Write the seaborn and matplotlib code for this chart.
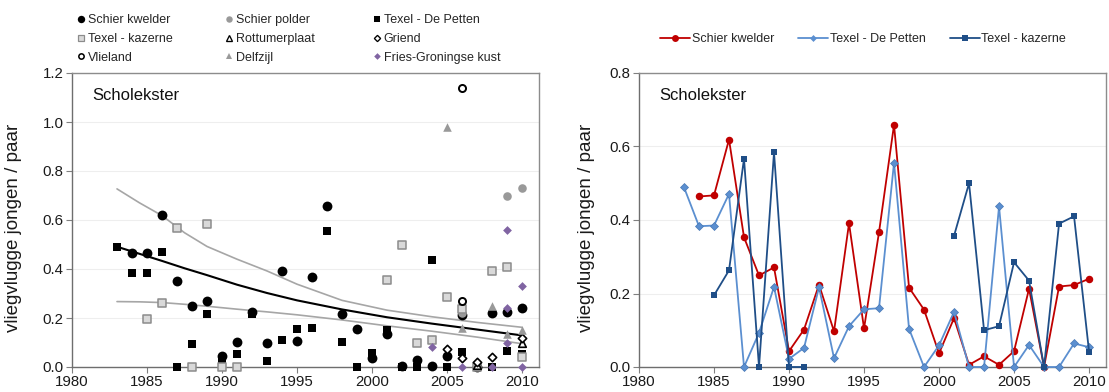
import matplotlib
matplotlib.use("Agg")
import matplotlib.pyplot as plt
import seaborn as sns
import numpy as np
import pandas as pd
from matplotlib.lines import Line2D
from matplotlib.ticker import FormatStrFormatter

sns.set_theme(style="white")
plt.rcParams['font.family'] = ['Liberation Sans', 'DejaVu Sans']

# ---------------- data ----------------
kwelder_years = list(range(1984, 2011))
kwelder_vals = [0.464, 0.467, 0.619, 0.353, 0.249, 0.271, 0.043, 0.102, 0.224, 0.097,
                0.391, 0.105, 0.367, 0.659, 0.216, 0.156, 0.037, 0.133, 0.006, 0.029,
                0.006, 0.043, 0.213, 0.000, 0.219, 0.223, 0.240]

petten_years = list(range(1983, 2011))
petten_vals = [0.489, 0.383, 0.385, 0.471, 0.000, 0.093, 0.218, 0.022, 0.052, 0.217,
               0.024, 0.111, 0.157, 0.160, 0.556, 0.104, 0.000, 0.059, 0.150, 0.000,
               0.000, 0.437, 0.000, 0.060, 0.000, 0.000, 0.064, 0.054]

kazerne_years_a = [1985, 1986, 1987, 1988, 1989, 1990, 1991]
kazerne_vals_a = [0.195, 0.263, 0.567, 0.000, 0.584, 0.000, 0.000]
kazerne_years_b = [2001, 2002, 2003, 2004, 2005, 2006, 2007, 2008, 2009, 2010]
kazerne_vals_b = [0.357, 0.500, 0.100, 0.111, 0.285, 0.235, 0.000, 0.390, 0.410, 0.042]

polder_years = [2006, 2009, 2010]
polder_vals = [0.22, 0.70, 0.73]
rottum_years = [2007, 2010]
rottum_vals = [0.01, 0.10]
griend_years = [2005, 2006, 2007, 2008, 2010]
griend_vals = [0.072, 0.035, 0.022, 0.040, 0.120]
vlieland_years = [2006, 2006]
vlieland_vals = [1.14, 0.27]
delfzijl_years = [2005, 2006, 2008, 2009, 2010]
delfzijl_vals = [0.98, 0.16, 0.25, 0.135, 0.152]
fries_years = [2004, 2006, 2008, 2009, 2009, 2009, 2010, 2010]
fries_vals = [0.08, 0.00, 0.00, 0.56, 0.24, 0.10, 0.33, 0.00]

# fitted trend and confidence band
trend_years = [1983, 1984.5, 1986, 1987.5, 1989, 1991, 1993, 1995, 1998, 2001, 2004, 2007, 2010]
trend_mid = [0.491, 0.462, 0.433, 0.403, 0.375, 0.336, 0.302, 0.272, 0.235, 0.203, 0.177, 0.153, 0.129]
trend_upper = [0.727, 0.670, 0.618, 0.548, 0.492, 0.440, 0.392, 0.338, 0.272, 0.232, 0.205, 0.182, 0.162]
trend_lower = [0.267, 0.266, 0.263, 0.256, 0.248, 0.236, 0.225, 0.213, 0.192, 0.168, 0.146, 0.122, 0.095]

title = "Scholekster"
ylabel = "vliegvlugge jongen / paar"
xticks = [1980, 1985, 1990, 1995, 2000, 2005, 2010]

# ---------------- figure ----------------
W, H = 1109, 392
fig = plt.figure(figsize=(W / 100, H / 100), dpi=100)
axL = fig.add_axes([72 / W, 1 - 367 / H, 467 / W, 294 / H])
axR = fig.add_axes([639 / W, 1 - 367 / H, 467 / W, 294 / H])

# trend lines
sns.lineplot(x=trend_years, y=trend_upper, ax=axL, color="#A6A6A6", lw=1.2, zorder=2)
sns.lineplot(x=trend_years, y=trend_lower, ax=axL, color="#A6A6A6", lw=1.2, zorder=2)
sns.lineplot(x=trend_years, y=trend_mid, ax=axL, color="black", lw=1.5, zorder=2)

# scatter series
styles = {
    "Schier kwelder": dict(marker="o", color="black", edgecolor="black", s=50, linewidth=0),
    "Schier polder": dict(marker="o", color="#999999", edgecolor="#999999", s=38, linewidth=0),
    "Texel - De Petten": dict(marker="s", color="black", edgecolor="black", s=32, linewidth=0),
    "Texel - kazerne": dict(marker="s", color="#D9D9D9", edgecolor="#8C8C8C", s=26, linewidth=1.1),
    "Rottumerplaat": dict(marker="^", color="white", edgecolor="black", s=30, linewidth=1.2),
    "Griend": dict(marker="D", color="white", edgecolor="black", s=18, linewidth=1.2),
    "Vlieland": dict(marker="o", color="white", edgecolor="black", s=26, linewidth=1.4),
    "Delfzijl": dict(marker="^", color="#999999", edgecolor="#999999", s=38, linewidth=0),
    "Fries-Groningse kust": dict(marker="D", color="#8064A2", edgecolor="#8064A2", s=20, linewidth=0),
}
series = {
    "Schier kwelder": (kwelder_years, kwelder_vals),
    "Schier polder": (polder_years, polder_vals),
    "Texel - De Petten": (petten_years, petten_vals),
    "Texel - kazerne": (kazerne_years_a + kazerne_years_b, kazerne_vals_a + kazerne_vals_b),
    "Rottumerplaat": (rottum_years, rottum_vals),
    "Griend": (griend_years, griend_vals),
    "Vlieland": (vlieland_years, vlieland_vals),
    "Delfzijl": (delfzijl_years, delfzijl_vals),
    "Fries-Groningse kust": (fries_years, fries_vals),
}
for i, (name, (xs, ys)) in enumerate(series.items()):
    sns.scatterplot(x=xs, y=ys, ax=axL, zorder=3 + i * 0.1, clip_on=False, **styles[name])

# right panel lines
red, lblue, dblue = "#C00000", "#5B8FD0", "#1F4E87"
sns.lineplot(x=kwelder_years, y=kwelder_vals, ax=axR, color=red, lw=1.3, marker="o",
             markersize=5.4, markeredgewidth=0, zorder=3, clip_on=False)
sns.lineplot(x=petten_years, y=petten_vals, ax=axR, color=lblue, lw=1.3, marker="D",
             markersize=4.0, markeredgewidth=0.5, markeredgecolor="#4677B5", zorder=4, clip_on=False)
for xs, ys in [(kazerne_years_a, kazerne_vals_a), (kazerne_years_b, kazerne_vals_b)]:
    sns.lineplot(x=xs, y=ys, ax=axR, color=dblue, lw=1.3, marker="s",
                 markersize=4.6, markeredgewidth=0, zorder=5, clip_on=False)

# axes styling
for ax, top in [(axL, 1.2), (axR, 0.8)]:
    ax.set_xlim(1980, 2011.13)
    ax.set_ylim(0, top)
    ax.set_xticks(xticks)
    ax.set_yticks(np.arange(0, top + 0.001, 0.2))
    ax.yaxis.set_major_formatter(FormatStrFormatter("%.1f"))
    ax.tick_params(axis="both", direction="out", length=4, width=0.8, color="#808080",
                   labelsize=10.8, labelcolor="#1a1a1a", pad=2, left=True, bottom=True)
    ax.yaxis.grid(True, color="#EEEEEE", lw=0.8)
    ax.xaxis.grid(False)
    ax.set_axisbelow(True)
    for side in ["top", "right"]:
        ax.spines[side].set_color("#8C8C8C")
        ax.spines[side].set_linewidth(1.0)
    for side in ["left", "bottom"]:
        ax.spines[side].set_color("#6E6E6E")
        ax.spines[side].set_linewidth(1.0)
    ax.text(0.043, 0.925, title, transform=ax.transAxes, fontsize=12, va="center", ha="left",
            color="#111111")
    ax.set_ylabel(ylabel, fontsize=13.5, color="#1a1a1a")
    ax.set_xlabel("")

axL.yaxis.set_label_coords((22 - 72) / 467, 0.473)
axR.yaxis.set_label_coords((595 - 639) / 467, 0.473)

# left legend (3 columns placed separately)
def handle(name):
    st = styles[name]
    ms = np.sqrt(st["s"]) * 0.75
    return Line2D([], [], ls="none", marker=st["marker"], markersize=ms,
                  markerfacecolor=st["color"], markeredgecolor=st["edgecolor"],
                  markeredgewidth=max(st["linewidth"] * 0.8, 0.01))

cols = [["Schier kwelder", "Texel - kazerne", "Vlieland"],
        ["Schier polder", "Rottumerplaat", "Delfzijl"],
        ["Texel - De Petten", "Griend", "Fries-Groningse kust"]]
col_x = [77, 225, 373]
for cx, names in zip(col_x, cols):
    fig.legend(handles=[handle(n) for n in names], labels=names, loc="upper left",
               bbox_to_anchor=(cx / W, 1 - 14 / H), frameon=False, fontsize=9,
               handlelength=0.6, handletextpad=0.25, labelspacing=0.55,
               borderpad=0, borderaxespad=0)

# right legend
rh = [Line2D([], [], color=red, lw=1.3, marker="o", markersize=5, markeredgewidth=0),
      Line2D([], [], color=lblue, lw=1.3, marker="D", markersize=3.5, markeredgewidth=0),
      Line2D([], [], color=dblue, lw=1.3, marker="s", markersize=4.5, markeredgewidth=0)]
fig.legend(handles=rh, labels=["Schier kwelder", "Texel - De Petten", "Texel - kazerne"],
           loc="center left", bbox_to_anchor=(660 / W, 1 - 39 / H), ncol=3, frameon=False,
           fontsize=9, handlelength=2.4, handletextpad=0.15, columnspacing=1.9,
           borderpad=0, borderaxespad=0)

fig.savefig("out.png", dpi=100)
